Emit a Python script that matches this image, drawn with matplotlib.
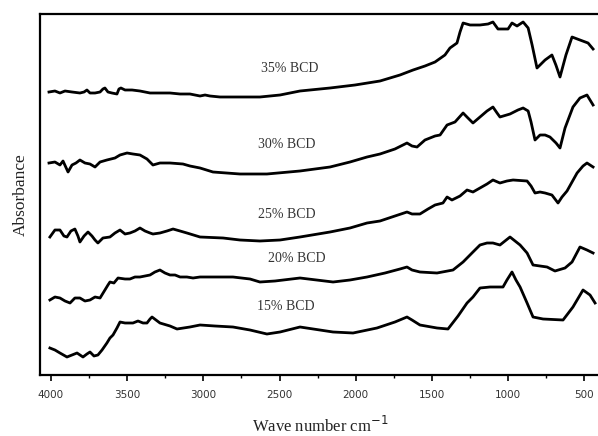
import matplotlib
matplotlib.use('Agg')
import matplotlib.pyplot as plt
from matplotlib.ticker import MultipleLocator

# FTIR spectra, offset vertically (wavenumber in cm-1, absorbance in a.u.)
wn_35 = [4013, 3974, 3941, 3908, 3862, 3810, 3783, 3764, 3744, 3711, 3678, 3659, 3646, 3626,
         3600, 3567, 3554, 3541, 3514, 3468, 3416, 3350, 3285, 3219, 3153, 3088, 3022, 2989,
         2957, 2891, 2760, 2629, 2497, 2366, 2169, 2005, 1841, 1710, 1624, 1546, 1480, 1415,
         1382, 1336, 1316, 1296, 1250, 1185, 1132, 1100, 1067, 1021, 1001, 975, 942, 902, 869,
         843, 811, 758, 713, 687, 660, 621, 581, 529, 476, 443]
ab_35 = [2.83, 2.84, 2.82, 2.84, 2.83, 2.82, 2.83, 2.85, 2.82, 2.82, 2.83, 2.86, 2.87, 2.83,
         2.82, 2.81, 2.86, 2.87, 2.85, 2.85, 2.84, 2.82, 2.82, 2.82, 2.81, 2.81, 2.79, 2.80,
         2.79, 2.78, 2.78, 2.78, 2.80, 2.84, 2.87, 2.90, 2.94, 3.00, 3.05, 3.09, 3.13, 3.20,
         3.27, 3.32, 3.43, 3.52, 3.50, 3.50, 3.51, 3.53, 3.46, 3.46, 3.46, 3.52, 3.49, 3.53, 3.47,
         3.30, 3.07, 3.15, 3.20, 3.10, 2.98, 3.20, 3.38, 3.35, 3.32, 3.26]

wn_30 = [4013, 3974, 3941, 3921, 3888, 3862, 3836, 3810, 3777, 3744, 3711, 3678, 3633, 3580,
         3547, 3501, 3462, 3416, 3370, 3331, 3285, 3219, 3134, 3088, 3022, 2937, 2760, 2583,
         2366, 2169, 2038, 1926, 1841, 1743, 1664, 1631, 1598, 1546, 1480, 1447, 1401, 1349,
         1296, 1264, 1231, 1185, 1139, 1100, 1073, 1054, 988, 936, 902, 869, 850, 824, 791,
         758, 726, 686, 660, 627, 575, 529, 483, 443]
ab_30 = [2.12, 2.13, 2.10, 2.14, 2.03, 2.10, 2.12, 2.15, 2.12, 2.11, 2.08, 2.13, 2.15, 2.17,
         2.20, 2.22, 2.21, 2.20, 2.16, 2.10, 2.12, 2.12, 2.11, 2.09, 2.07, 2.03, 2.01, 2.01,
         2.04, 2.08, 2.13, 2.18, 2.21, 2.26, 2.32, 2.29, 2.28, 2.35, 2.39, 2.40, 2.50, 2.53,
         2.62, 2.57, 2.52, 2.58, 2.64, 2.68, 2.62, 2.58, 2.61, 2.65, 2.67, 2.64, 2.53, 2.35, 2.40,
         2.40, 2.38, 2.32, 2.27, 2.47, 2.68, 2.77, 2.80, 2.70]

wn_25 = [4007, 3974, 3941, 3915, 3895, 3869, 3843, 3823, 3810, 3783, 3757, 3731, 3711, 3692,
         3659, 3613, 3580, 3547, 3514, 3482, 3449, 3416, 3383, 3350, 3331, 3285, 3239, 3199,
         3153, 3108, 3022, 2871, 2760, 2629, 2497, 2366, 2169, 2038, 1926, 1841, 1743, 1664,
         1631, 1579, 1526, 1480, 1428, 1401, 1369, 1316, 1270, 1231, 1185, 1139, 1100, 1054,
         1008, 968, 876, 850, 824, 791, 758, 713, 673, 647, 614, 548, 509, 483, 443]
ab_25 = [1.38, 1.45, 1.45, 1.39, 1.38, 1.44, 1.46, 1.39, 1.33, 1.39, 1.43, 1.39, 1.35, 1.32,
         1.37, 1.38, 1.42, 1.45, 1.41, 1.42, 1.44, 1.47, 1.44, 1.42, 1.41, 1.42, 1.44, 1.46,
         1.44, 1.42, 1.38, 1.37, 1.35, 1.34, 1.35, 1.38, 1.43, 1.47, 1.52, 1.54, 1.59, 1.63,
         1.61, 1.61, 1.66, 1.70, 1.72, 1.78, 1.75, 1.79, 1.85, 1.83, 1.87, 1.91, 1.95, 1.92,
         1.94, 1.95, 1.94, 1.89, 1.82, 1.83, 1.82, 1.80, 1.72, 1.78, 1.84, 2.02, 2.09, 2.12, 2.08]

wn_20 = [4007, 3974, 3941, 3908, 3875, 3843, 3810, 3777, 3744, 3711, 3678, 3646, 3626, 3613,
         3587, 3560, 3514, 3482, 3449, 3416, 3383, 3350, 3318, 3285, 3252, 3219, 3186, 3153,
         3108, 3068, 3022, 2937, 2806, 2694, 2629, 2530, 2366, 2149, 2038, 1926, 1808, 1710,
         1664, 1631, 1579, 1467, 1362, 1296, 1231, 1185, 1139, 1100, 1054, 1021, 988, 955, 922,
         876, 837, 745, 693, 627, 581, 529, 483, 443]
ab_20 = [0.75, 0.78, 0.77, 0.74, 0.72, 0.77, 0.77, 0.74, 0.75, 0.78, 0.77, 0.85, 0.90, 0.93,
         0.92, 0.97, 0.96, 0.96, 0.98, 0.98, 0.99, 1.00, 1.03, 1.05, 1.02, 1.00, 1.00, 0.98,
         0.98, 0.97, 0.98, 0.98, 0.98, 0.96, 0.93, 0.94, 0.97, 0.93, 0.95, 0.98, 1.02, 1.06,
         1.08, 1.05, 1.03, 1.02, 1.05, 1.13, 1.23, 1.30, 1.32, 1.32, 1.30, 1.34, 1.38, 1.34, 1.30,
         1.22, 1.10, 1.08, 1.04, 1.07, 1.13, 1.28, 1.25, 1.22]

wn_15 = [4007, 3974, 3941, 3895, 3862, 3829, 3790, 3764, 3744, 3718, 3692, 3665, 3633, 3613,
         3593, 3567, 3547, 3514, 3482, 3462, 3429, 3396, 3370, 3350, 3337, 3311, 3285, 3219,
         3173, 3088, 3022, 2924, 2806, 2694, 2583, 2497, 2366, 2149, 2018, 1861, 1743, 1664,
         1631, 1579, 1467, 1395, 1329, 1270, 1231, 1185, 1119, 1034, 1008, 975, 949, 922, 876,
         837, 771, 640, 575, 509, 463, 430]
ab_15 = [0.27, 0.25, 0.22, 0.18, 0.20, 0.22, 0.18, 0.21, 0.23, 0.19, 0.20, 0.25, 0.32, 0.37,
         0.40, 0.47, 0.53, 0.52, 0.52, 0.52, 0.54, 0.52, 0.52, 0.56, 0.58, 0.55, 0.52, 0.49,
         0.46, 0.48, 0.50, 0.49, 0.48, 0.45, 0.41, 0.43, 0.48, 0.43, 0.42, 0.47, 0.53, 0.58,
         0.55, 0.50, 0.47, 0.46, 0.59, 0.72, 0.78, 0.87, 0.88, 0.88, 0.95, 1.03, 0.95, 0.88, 0.72,
         0.58, 0.56, 0.55, 0.68, 0.85, 0.80, 0.72]

labels = ['35% BCD', '30% BCD', '25% BCD', '20% BCD', '15% BCD']
label_wn = [2432, 2451, 2451, 2386, 2458]
label_ab = [3.06, 2.30, 1.61, 1.17, 0.68]

series = [(wn_35, ab_35), (wn_30, ab_30), (wn_25, ab_25), (wn_20, ab_20), (wn_15, ab_15)]

fig = plt.figure(figsize=(5.98, 4.36), dpi=100)
ax = fig.add_axes([40 / 598, 1 - 375 / 436, 561 / 598, 361 / 436])

for wn, ab in series:
    ax.plot(wn, ab, color='black', lw=2.0, solid_joinstyle='round')

for txt, x, y in zip(labels, label_wn, label_ab):
    ax.text(x, y, txt, ha='center', va='center', fontsize=10, color='#333333',
            family='Liberation Serif')

ax.set_xlim(4072, 391)
ax.set_ylim(0, 3.61)

ax.xaxis.set_major_locator(MultipleLocator(500))
ax.xaxis.set_minor_locator(MultipleLocator(250))
ax.tick_params(axis='x', which='major', direction='out', length=4.5, width=1.2,
               labelsize=7.5, labelcolor='#333333', pad=6)
ax.tick_params(axis='x', which='minor', direction='out', length=2.5, width=1.0)
ax.set_yticks([])
for side in ['left', 'top', 'bottom']:
    ax.spines[side].set_linewidth(1.6)
ax.spines['right'].set_visible(False)

ax.set_xlabel('Wave number cm$^{-1}$', family='Liberation Serif', fontsize=12,
              color='#222222', labelpad=12)
ax.set_ylabel('Absorbance', family='Liberation Serif', fontsize=12.5,
              color='#222222', labelpad=8)

fig.savefig('out.png', dpi=100)
